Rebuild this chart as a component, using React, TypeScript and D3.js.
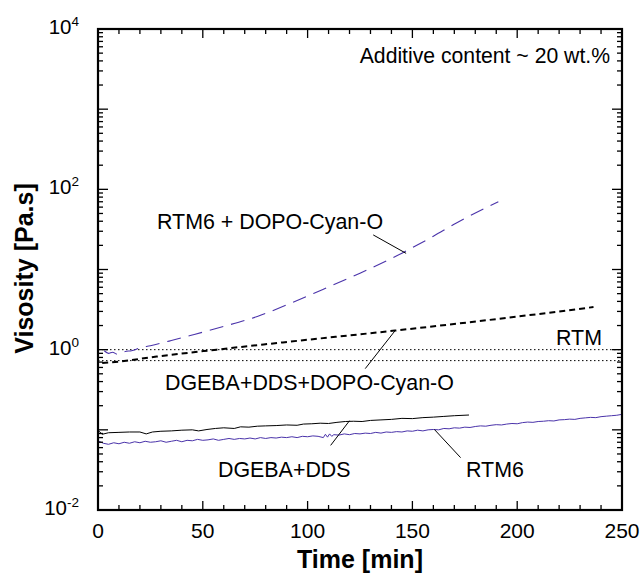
import React from "react";
import * as d3 from "d3";

// ---------- Data ----------
const rtm6DopoTime = [3, 5, 7, 9, 11, 13, 16, 20, 25, 35, 44, 60, 76, 91, 107, 125, 145, 160, 171, 191];
const rtm6DopoVisc = [0.97, 0.9, 0.93, 0.88, 0.91, 0.95, 0.97, 1.05, 1.12, 1.3, 1.5, 1.95, 2.6, 3.7, 5.6, 9, 16, 26, 38, 70];

const dgebaDopoTime = [2, 10, 28, 56.6, 91.6, 141.7, 206, 236.4];
const dgebaDopoVisc = [0.68, 0.71, 0.82, 1.0, 1.26, 1.73, 2.7, 3.4];

const rtmLevels = [1.0, 0.73];

const dgebaTime = [0.5, 2, 5, 10, 15, 20, 23, 26, 30, 35, 40, 45, 48, 52, 56, 60, 65, 68, 72, 76, 80, 85, 90, 95, 98, 102, 106, 110, 114, 118, 122, 126, 130, 135, 140, 145, 150, 155, 160, 165, 170, 177];
const dgebaVisc = [0.096, 0.088, 0.092, 0.093, 0.094, 0.094, 0.089, 0.094, 0.096, 0.097, 0.099, 0.1, 0.097, 0.101, 0.104, 0.106, 0.104, 0.109, 0.108, 0.111, 0.112, 0.113, 0.115, 0.114, 0.118, 0.119, 0.121, 0.12, 0.124, 0.127, 0.128, 0.127, 0.131, 0.133, 0.135, 0.139, 0.138, 0.142, 0.144, 0.147, 0.15, 0.153];

const rtm6Time = [0.5, 2.5, 5, 7.5, 10, 12.5, 15, 17.5, 20, 22.5, 25, 27.5, 30, 32.5, 35, 37.5, 40, 42.5, 45, 47.5, 50, 52.5, 55, 57.5, 60, 62.5, 65, 67.5, 70, 72.5, 75, 77.5, 80, 82.5, 85, 87.5, 90, 92.5, 95, 97.5, 100, 102.5, 105, 107.5, 108.5, 109.5, 110.5, 111.5, 112.5, 115, 117.5, 120, 122.5, 125, 127.5, 130, 132.5, 135, 137.5, 140, 142.5, 145, 147.5, 150, 152.5, 155, 157.5, 160, 162.5, 165, 167.5, 170, 172.5, 175, 177.5, 180, 182.5, 185, 187.5, 190, 192.5, 195, 197.5, 200, 202.5, 205, 207.5, 210, 212.5, 215, 217.5, 220, 222.5, 225, 227.5, 230, 232.5, 235, 237.5, 240, 242.5, 245, 247.5, 250];
const rtm6Visc = [0.072, 0.068, 0.066, 0.069, 0.067, 0.07, 0.068, 0.071, 0.069, 0.072, 0.07, 0.071, 0.073, 0.07, 0.072, 0.074, 0.071, 0.074, 0.073, 0.076, 0.074, 0.075, 0.077, 0.074, 0.076, 0.078, 0.076, 0.078, 0.077, 0.079, 0.077, 0.08, 0.078, 0.08, 0.079, 0.081, 0.08, 0.082, 0.08, 0.083, 0.082, 0.084, 0.083, 0.08, 0.088, 0.081, 0.089, 0.083, 0.087, 0.086, 0.089, 0.087, 0.09, 0.089, 0.091, 0.09, 0.093, 0.091, 0.094, 0.093, 0.095, 0.094, 0.097, 0.096, 0.099, 0.097, 0.1, 0.101, 0.1, 0.104, 0.103, 0.106, 0.105, 0.108, 0.107, 0.11, 0.112, 0.111, 0.114, 0.116, 0.115, 0.118, 0.12, 0.119, 0.123, 0.125, 0.124, 0.127, 0.128, 0.13, 0.129, 0.133, 0.134, 0.136, 0.135, 0.139, 0.141, 0.143, 0.142, 0.146, 0.148, 0.15, 0.152, 0.156];

const xTickValues = [0, 50, 100, 150, 200, 250];
const yDecades = [-2, -1, 0, 1, 2, 3, 4];
const yLabelDecades = [-2, 0, 2, 4];

// ---------- Layout ----------
const W = 641;
const H = 574;
const L = 98, R = 622, T = 29, B = 510;
const FONT = "'Liberation Sans', Arial, Helvetica, sans-serif";
const BLUE = "#4a33aa";

export default function App() {
  const x = d3.scaleLinear().domain([0, 250]).range([L, R]);
  const y = d3.scaleLog().domain([1e-2, 1e4]).range([B, T]);

  const toPts = (ts: number[], vs: number[]) => ts.map((t, i) => [t, vs[i]] as [number, number]);
  const lineStraight = d3.line<[number, number]>().x(d => x(d[0])).y(d => y(d[1]));
  const lineSmooth = d3.line<[number, number]>().x(d => x(d[0])).y(d => y(d[1])).curve(d3.curveMonotoneX);

  const xMinor = d3.range(0, 251, 10).filter(v => v % 50 !== 0);
  const yMajor = yDecades.map(d => Math.pow(10, d));
  const yMinor: number[] = [];
  yDecades.slice(0, -1).forEach(d => {
    for (let k = 2; k <= 9; k++) yMinor.push(k * Math.pow(10, d));
  });

  const tickW = 1.3;
  const majLen = 9, minLen = 5;

  const ann = (t1: number, v1: number, t2: number, v2: number) => (
    <line x1={x(t1)} y1={y(v1)} x2={x(t2)} y2={y(v2)} stroke="#000" strokeWidth={1} />
  );

  return (
    <svg width={W} height={H} style={{ position: "absolute", left: 0, top: 0, background: "#fff" }} fontFamily={FONT}>
      <rect x={0} y={0} width={W} height={H} fill="#fff" />

      {/* RTM dotted levels */}
      {rtmLevels.map((v, i) => (
        <line key={i} x1={x(0)} x2={x(250)} y1={y(v)} y2={y(v)} stroke="#000" strokeWidth={1} strokeDasharray="1.5,2.5" />
      ))}

      {/* series */}
      <path d={lineSmooth(toPts(rtm6DopoTime, rtm6DopoVisc)) || ""} fill="none" stroke={BLUE} strokeWidth={1.1} strokeDasharray="14,8" />
      <path d={lineSmooth(toPts(dgebaDopoTime, dgebaDopoVisc)) || ""} fill="none" stroke="#000" strokeWidth={2} strokeDasharray="6,4" />
      <path d={lineStraight(toPts(dgebaTime, dgebaVisc)) || ""} fill="none" stroke="#000" strokeWidth={1} />
      <path d={lineStraight(toPts(rtm6Time, rtm6Visc)) || ""} fill="none" stroke={BLUE} strokeWidth={1} />

      {/* frame */}
      <rect x={L} y={T} width={R - L} height={B - T} fill="none" stroke="#000" strokeWidth={2.2} />

      {/* x ticks bottom & top */}
      {xTickValues.map(v => (
        <g key={"xm" + v}>
          <line x1={x(v)} x2={x(v)} y1={B} y2={B - majLen} stroke="#000" strokeWidth={tickW} />
          <line x1={x(v)} x2={x(v)} y1={T} y2={T + majLen} stroke="#000" strokeWidth={tickW} />
        </g>
      ))}
      {xMinor.map(v => (
        <g key={"xn" + v}>
          <line x1={x(v)} x2={x(v)} y1={B} y2={B - minLen} stroke="#000" strokeWidth={tickW} />
          <line x1={x(v)} x2={x(v)} y1={T} y2={T + minLen} stroke="#000" strokeWidth={tickW} />
        </g>
      ))}
      {/* y ticks left & right */}
      {yMajor.map(v => (
        <g key={"ym" + v}>
          <line x1={L} x2={L + majLen + 1} y1={y(v)} y2={y(v)} stroke="#000" strokeWidth={tickW} />
          <line x1={R} x2={R - majLen - 1} y1={y(v)} y2={y(v)} stroke="#000" strokeWidth={tickW} />
        </g>
      ))}
      {yMinor.map(v => (
        <g key={"yn" + v}>
          <line x1={L} x2={L + minLen} y1={y(v)} y2={y(v)} stroke="#000" strokeWidth={tickW} />
          <line x1={R} x2={R - minLen} y1={y(v)} y2={y(v)} stroke="#000" strokeWidth={tickW} />
        </g>
      ))}

      {/* x tick labels */}
      {xTickValues.map(v => (
        <text key={"xl" + v} x={x(v)} y={538} fontSize={21} textAnchor="middle" fill="#000">{v}</text>
      ))}
      {/* y tick labels */}
      {yLabelDecades.map(d => (
        <text key={"yl" + d} x={79} y={y(Math.pow(10, d)) + 5} fontSize={20.5} textAnchor="end" fill="#000">
          10<tspan fontSize={13.5} dy={-8}>{d}</tspan>
        </text>
      ))}

      {/* axis titles */}
      <text x={360} y={568} fontSize={25} fontWeight="bold" textAnchor="middle" fill="#000">Time [min]</text>
      <text transform={`translate(33,268.5) rotate(-90)`} fontSize={25} fontWeight="bold" textAnchor="middle" fill="#000">Visosity [Pa.s]</text>

      {/* annotations */}
      <text x={610} y={63} fontSize={21.2} textAnchor="end" fill="#000">Additive content ~ 20 wt.%</text>

      <text x={157} y={229} fontSize={21.4} fill="#000">RTM6 + DOPO-Cyan-O</text>
      {ann(131.3, 27, 147, 15.9)}

      <text x={165} y={390} fontSize={21.4} fill="#000">DGEBA+DDS+DOPO-Cyan-O</text>
      {ann(127.5, 0.58, 141.7, 1.72)}

      <text x={602} y={345} fontSize={21.4} textAnchor="end" fill="#000">RTM</text>

      <text x={218} y={477} fontSize={21.4} fill="#000">DGEBA+DDS</text>
      {ann(111, 0.064, 120, 0.13)}

      <text x={466} y={477} fontSize={21.4} fill="#000">RTM6</text>
      {ann(160.5, 0.101, 173, 0.045)}
    </svg>
  );
}
